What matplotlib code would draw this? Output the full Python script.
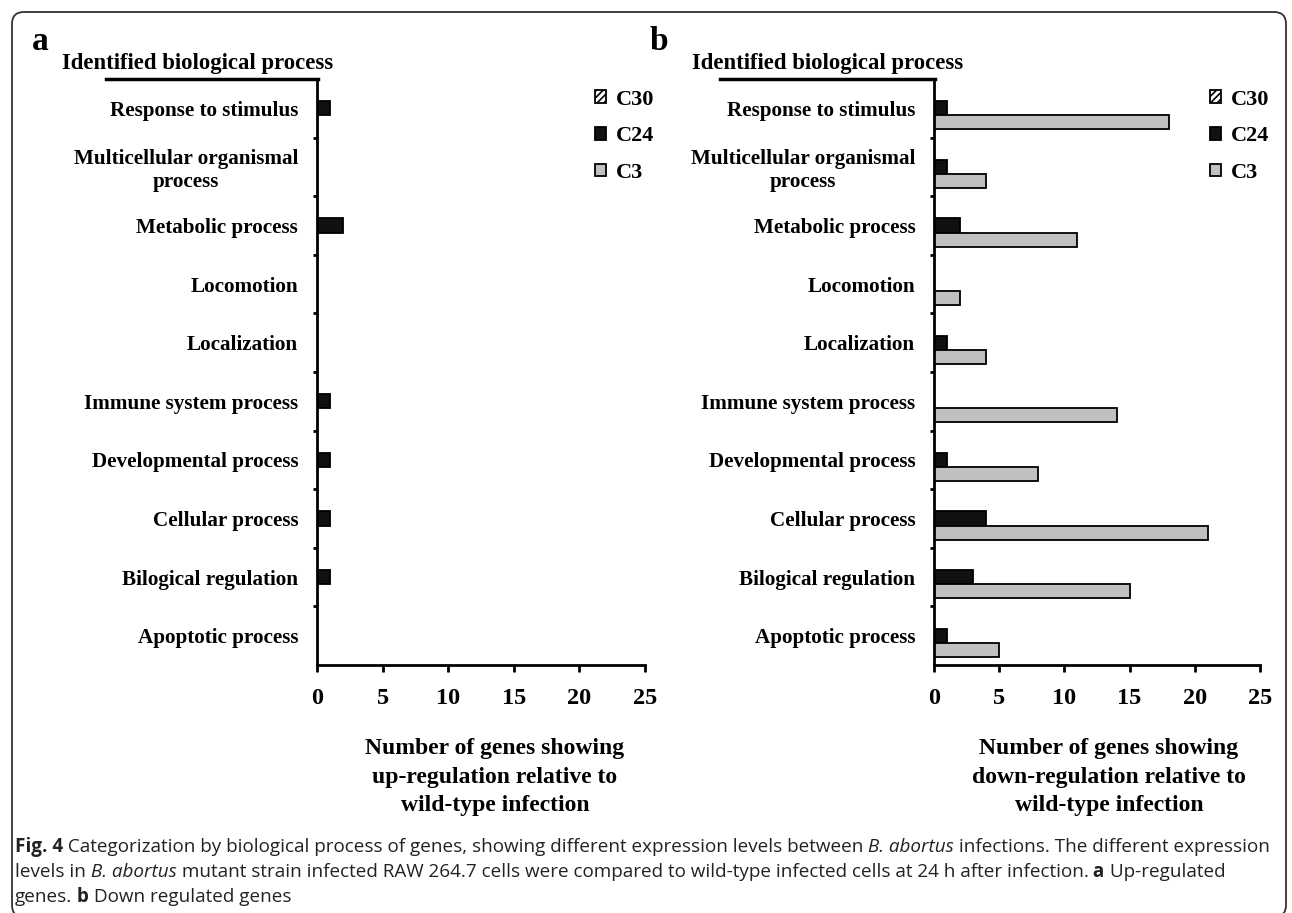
import numpy as np
import matplotlib
matplotlib.use("Agg")
import matplotlib.pyplot as plt
from matplotlib.patches import FancyBboxPatch
from matplotlib.lines import Line2D
from matplotlib.transforms import IdentityTransform

# GO biological process categories (top to bottom)
processes = ["Response to stimulus", "Multicellular organismal\nprocess", "Metabolic process",
             "Locomotion", "Localization", "Immune system process", "Developmental process",
             "Cellular process", "Bilogical regulation", "Apoptotic process"]
series = ["C30", "C24", "C3"]

# a: up-regulated genes
up_c30 = [0, 0, 0, 0, 0, 0, 0, 0, 0, 0]
up_c24 = [1, 0, 2, 0, 0, 1, 1, 1, 1, 0]
up_c3 = [0, 0, 0, 0, 0, 0, 0, 0, 0, 0]

# b: down-regulated genes
down_c30 = [0, 0, 0, 0, 0, 0, 0, 0, 0, 0]
down_c24 = [1, 1, 2, 0, 1, 0, 1, 4, 3, 1]
down_c3 = [18, 4, 11, 2, 4, 14, 8, 21, 15, 5]

xticks = [0, 5, 10, 15, 20, 25]

W, H = 1292, 913
SERIF = "Liberation Serif"
SANS = "Open Sans"


def fx(x):
    return x / W


def fy(y):
    return 1 - y / H


fig = plt.figure(figsize=(W / 100, H / 100), dpi=100)
fig.patch.set_facecolor("white")
plt.rcParams["hatch.linewidth"] = 1.2


def panel(left, right, c30, c24, c3, letter, letter_x, title_x, line_x0, xlabel, xlabel_x):
    ax = fig.add_axes([fx(left), fy(665), (right - left) / W, (665 - 79) / H])
    y = np.arange(len(processes))
    h = 0.24
    ax.barh(y - h, c30, height=h, color="white", edgecolor="black", hatch="/////",
            lw=1.3, label=series[0])
    ax.barh(y, c24, height=h, color="#111111", edgecolor="black", lw=1.3, label=series[1])
    ax.barh(y + h, c3, height=h, color="#c0c0c0", edgecolor="black", lw=1.3, label=series[2])

    ax.set_ylim(len(processes) - 0.5, -0.5)
    ax.set_xlim(0, 25)
    for s in ["top", "right"]:
        ax.spines[s].set_visible(False)
    for s in ["left", "bottom"]:
        ax.spines[s].set_linewidth(2)

    ax.set_yticks(y, processes, fontsize=15.2, fontweight="bold", family=SERIF)
    for lab in ax.get_yticklabels():
        lab.set_multialignment("center")
    ax.set_yticks(np.arange(0.5, len(processes) - 1, 1), minor=True)
    ax.tick_params(axis="y", which="major", length=0, pad=13.5)
    ax.tick_params(axis="y", which="minor", length=3, width=2)

    ax.set_xticks(xticks)
    ax.set_xticklabels([str(t) for t in xticks], fontsize=17.5, fontweight="bold", family=SERIF)
    ax.tick_params(axis="x", length=5, width=2, pad=11.5)

    ax.legend(loc="upper left", bbox_to_anchor=((right - left - 50) / (right - left), 0.982),
              frameon=False, borderpad=0, borderaxespad=0, handlelength=0.5,
              handleheight=0.5, handletextpad=0.45, labelspacing=0.75,
              prop={"family": SERIF, "weight": "bold", "size": 16})

    fig.text(fx(letter_x), fy(42), letter, fontsize=24, fontweight="bold", family=SERIF,
             ha="left", va="center")
    fig.text(fx(title_x), fy(64), "Identified biological process", fontsize=16.4,
             fontweight="bold", family=SERIF, ha="center", va="center")
    fig.add_artist(Line2D([fx(line_x0), fx(left + 1)], [fy(79), fy(79)], lw=2.5, color="black"))
    fig.text(fx(xlabel_x), fy(777), xlabel, fontsize=17, fontweight="bold", family=SERIF,
             ha="center", va="center", linespacing=1.45)
    return ax


panel(317, 645, up_c30, up_c24, up_c3, "a", 32, 198, 106,
      "Number of genes showing\nup-regulation relative to\nwild-type infection", 495)
panel(934, 1260, down_c30, down_c24, down_c3, "b", 650, 828, 720,
      "Number of genes showing\ndown-regulation relative to\nwild-type infection", 1109)

# frame round the figure
fig.add_artist(FancyBboxPatch((12, -4), 1274, H - 12 + 4,
                              boxstyle="round,pad=0,rounding_size=12",
                              transform=IdentityTransform(), fill=False,
                              ec="#333333", lw=1.3))

# caption, written run by run so the bold and italic parts line up
caption = [
    [("Fig. 4", "bold", "normal"),
     (" Categorization by biological process of genes, showing different expression levels between", "normal", "normal"),
     (" B. abortus", "normal", "italic"),
     (" infections. The different expression", "normal", "normal")],
    [("levels in", "normal", "normal"),
     (" B. abortus", "normal", "italic"),
     (" mutant strain infected RAW 264.7 cells were compared to wild-type infected cells at 24 h after infection.", "normal", "normal"),
     (" a", "bold", "normal"),
     (" Up-regulated", "normal", "normal")],
    [("genes.", "normal", "normal"),
     (" b", "bold", "normal"),
     (" Down regulated genes", "normal", "normal")],
]
renderer = fig.canvas.get_renderer()
for row, baseline in zip(caption, [852, 877, 902]):
    x = 15
    for txt, weight, style in row:
        t = fig.text(fx(x), fy(baseline), txt, fontsize=13.6, family=SANS,
                     fontweight=weight, fontstyle=style, ha="left", va="baseline",
                     color="#222222")
        x += t.get_window_extent(renderer).width

fig.savefig("out.png", dpi=100, facecolor="white")
